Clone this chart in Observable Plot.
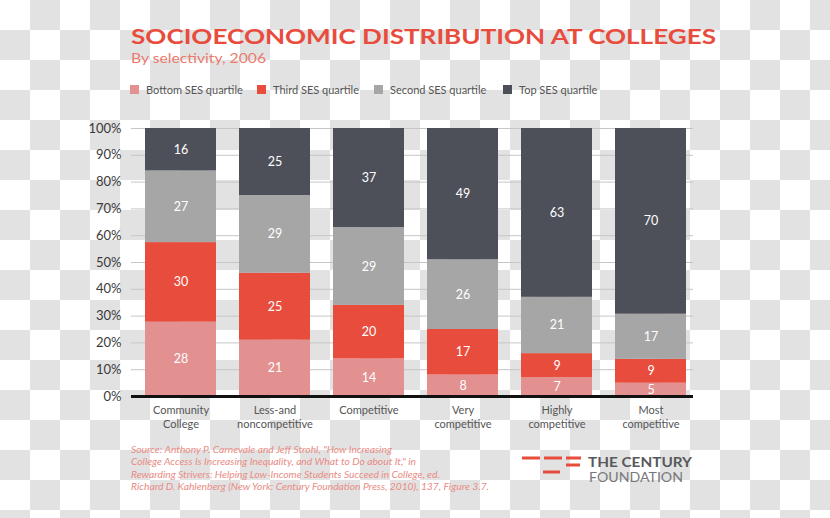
<!DOCTYPE html>
<html>
<head>
<meta charset="utf-8">
<script src="https://cdn.jsdelivr.net/npm/d3@7"></script>
<script src="https://cdn.jsdelivr.net/npm/@observablehq/plot@0.6"></script>
<style>
  html, body { margin: 0; padding: 0; }
  body {
    width: 830px; height: 518px; overflow: hidden; position: relative;
    font-family: Lato, "Open Sans", sans-serif;
    background-image: conic-gradient(#e2e2e2 0 25%, #ffffff 0 50%, #e2e2e2 0 75%, #ffffff 0);
    background-size: 60px 60px;
    background-position: 0 0;
  }
  .abs { position: absolute; white-space: nowrap; }
  #title { left: 131px; top: 27.1px; font-size: 21.6px; line-height: 18px; font-weight: 700; color: #e84c3d; transform-origin: 0 0; }
  #subtitle { left: 131px; top: 51.9px; font-size: 14.2px; line-height: 12px; color: #ea7b6d; transform-origin: 0 0; }
  .leg { position: absolute; top: 84px; display: flex; align-items: center; font-size: 11px; line-height: 11px; color: #555; white-space: nowrap; }
  .leg .sw { width: 9px; height: 9px; margin-right: 7px; }
  #plot { left: 0; top: 110px; }
  #source { left: 131px; top: 443px; font-size: 10.2px; line-height: 12.3px; font-style: italic; color: #e98b84; transform-origin: 0 0; }
  #logo { left: 0; top: 0; }
</style>
</head>
<body>
<div id="title" class="abs">SOCIOECONOMIC DISTRIBUTION AT COLLEGES</div>
<div id="subtitle" class="abs">By selectivity, 2006</div>
<div id="legend"></div>
<div id="plot" class="abs"></div>
<div id="source" class="abs">Source: Anthony P. Carnevale and Jeff Strohl, "How Increasing<br>College Access Is Increasing Inequality, and What to Do about It," in<br>Rewarding Strivers: Helping Low-Income Students Succeed in College, ed.<br>Richard D. Kahlenberg (New York: Century Foundation Press, 2010), 137, Figure 3.7.</div>
<svg id="logo" class="abs" width="830" height="518">
  <g fill="#e84c3d">
    <rect x="522" y="456.5" width="18" height="3"/>
    <rect x="544" y="456.5" width="18" height="3"/>
    <rect x="566" y="456.5" width="15" height="3"/>
    <rect x="566" y="463.5" width="14" height="3"/>
    <rect x="543" y="470.5" width="17" height="3"/>
  </g>
  <text x="588" y="466.5" font-family="Lato" font-weight="700" font-size="14" fill="#58595b" textLength="104" lengthAdjust="spacingAndGlyphs">THE CENTURY</text>
  <text x="589" y="482" font-family="Lato" font-size="14" fill="#77787b" textLength="94" lengthAdjust="spacingAndGlyphs">FOUNDATION</text>
</svg>
<script>
const categories = ["Community College", "Less-and noncompetitive", "Competitive", "Very competitive", "Highly competitive", "Most competitive"];
const tickLabels = ["Community\nCollege", "Less-and\nnoncompetitive", "Competitive", "Very\ncompetitive", "Highly\ncompetitive", "Most\ncompetitive"];
const series = ["Bottom SES quartile", "Third SES quartile", "Second SES quartile", "Top SES quartile"];
const colors = ["#e39090", "#e84c3d", "#a6a6a6", "#4e5059"];
const bottomSES = [28, 21, 14, 8, 7, 5];
const thirdSES = [30, 25, 20, 17, 9, 9];
const secondSES = [27, 29, 29, 26, 21, 17];
const topSES = [16, 25, 37, 49, 63, 70];
const yTicks = [0, 0.1, 0.2, 0.3, 0.4, 0.5, 0.6, 0.7, 0.8, 0.9, 1];

const seriesValues = [bottomSES, thirdSES, secondSES, topSES];
const data = categories.flatMap((c, i) => series.map((s, j) => ({category: c, series: s, value: seriesValues[j][i]})));

// stretch title / subtitle / source to the reference widths
function fit(id, target) {
  const el = document.getElementById(id);
  const w = el.getBoundingClientRect().width;
  el.style.transform = "scaleX(" + (target / w) + ")";
}
fit("title", 585);
fit("subtitle", 135);
fit("source", 358);

// legend
const legendX = [130, 257, 374, 503];
const lg = document.getElementById("legend");
series.forEach((s, i) => {
  const it = document.createElement("div");
  it.className = "leg";
  it.style.left = legendX[i] + "px";
  const sw = document.createElement("div");
  sw.className = "sw";
  sw.style.background = colors[i];
  const tx = document.createElement("span");
  tx.textContent = s;
  it.appendChild(sw); it.appendChild(tx);
  lg.appendChild(it);
});

const chart = Plot.plot({
  width: 830,
  height: 326,
  marginTop: 18,
  marginBottom: 40,
  marginLeft: 131,
  marginRight: 137,
  style: {background: "transparent", fontFamily: "Lato, sans-serif", color: "#3a3a3a"},
  x: {domain: categories, range: [131, 700], paddingInner: 0.25, paddingOuter: 0.125, label: null},
  y: {domain: [0, 1], label: null},
  color: {domain: series, range: colors},
  marks: [
    Plot.gridY(yTicks, {stroke: "#c6c6c6", strokeOpacity: 1}),
    Plot.axisY(yTicks, {tickFormat: d3.format(".0%"), tickSize: 0, tickPadding: 10, fontSize: 13, label: null}),
    Plot.axisX({tickSize: 0, tickPadding: 8, tickFormat: d => tickLabels[categories.indexOf(d)], fontSize: 11, lineHeight: 1.27, label: null, fill: "#555"}),
    Plot.barY(data, Plot.stackY({x: "category", y: "value", fill: "series", offset: "normalize"})),
    Plot.text(data, Plot.stackY({x: "category", y: "value", z: "series", text: "value", offset: "normalize", fill: "white", fontSize: 12.5})),
    Plot.ruleY([0], {stroke: "#111", strokeWidth: 3})
  ]
});
document.getElementById("plot").appendChild(chart);
</script>
</body>
</html>
